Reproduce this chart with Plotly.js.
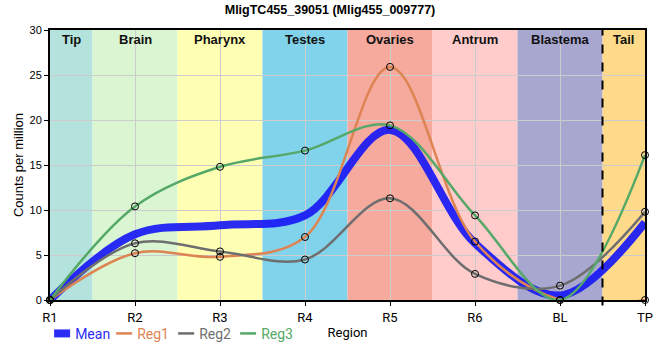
<!DOCTYPE html>
<html>
<head>
<meta charset="utf-8">
<script src="https://cdn.plot.ly/plotly-3.0.1.min.js"></script>
<style>html,body{margin:0;padding:0;background:#fff;}#chart{width:660px;height:360px;}</style>
</head>
<body>
<div id="chart"></div>
<script>
// Data
const categories = ["R1", "R2", "R3", "R4", "R5", "R6", "BL", "TP"];
const meanValues = [0, 7.3, 8.3, 9.4, 18.9, 6.3, 0.5, 8.6];
const reg1Values = [0, 5.2, 4.8, 7.0, 25.9, 6.5, 0, 0];
const reg2Values = [0, 6.3, 5.4, 4.5, 11.3, 2.9, 1.6, 9.8];
const reg3Values = [0, 10.4, 14.8, 16.6, 19.4, 9.4, 0, 16.1];
const regionNames = ["Tip", "Brain", "Pharynx", "Testes", "Ovaries", "Antrum", "Blastema", "Tail"];
const regionColors = ["#b4e3dd", "#d9f5d1", "#ffffb4", "#80d3eb", "#f5aa9d", "#ffcbcb", "#a8a7cf", "#ffda8b"];

const n = categories.length;
const shapes = [];
const annotations = [];
for (let i = 0; i < n; i++) {
  const x0 = Math.max(i - 0.5, 0);
  const x1 = Math.min(i + 0.5, n - 1);
  shapes.push({type: "rect", xref: "x", yref: "paper", x0: x0, x1: x1, y0: 0, y1: 1,
    fillcolor: regionColors[i], line: {width: 0}, layer: "below"});
  annotations.push({xref: "x", yref: "paper", x: (x0 + x1) / 2, y: 0.963, yanchor: "middle", xanchor: "center",
    text: "<b>" + regionNames[i] + "</b>",
    showarrow: false, font: {family: "Liberation Sans, Arial", size: 13, color: "#111"}});
}
shapes.push({type: "line", xref: "x", yref: "paper", x0: n - 1.5, x1: n - 1.5, y0: -0.02, y1: 1,
  line: {color: "#000", width: 2, dash: "dash"}});

const lineColors = {Mean: "rgba(25,25,245,0.92)", Reg1: "#dd8452", Reg2: "#6e6e6e", Reg3: "#55a868"};
function lineTrace(name, vals, width) {
  return {x: categories, y: vals, name: name, type: "scatter", mode: "lines",
    line: {shape: "spline", smoothing: 1, color: lineColors[name], width: width}};
}
function markerTrace(name, vals) {
  return {x: categories, y: vals, name: name, type: "scatter", mode: "markers", showlegend: false,
    marker: {symbol: "circle-open", size: 7, color: "#000", line: {width: 1}}, cliponaxis: false};
}
const traces = [
  lineTrace("Mean", meanValues, 8),
  lineTrace("Reg1", reg1Values, 2.5),
  lineTrace("Reg2", reg2Values, 2.5),
  lineTrace("Reg3", reg3Values, 2.5),
  markerTrace("Reg1", reg1Values),
  markerTrace("Reg2", reg2Values),
  markerTrace("Reg3", reg3Values)
];

const layout = {
  width: 660, height: 360,
  margin: {l: 50, r: 7, t: 30, b: 60},
  paper_bgcolor: "#fff", plot_bgcolor: "#fff",
  title: {text: "<b>MligTC455_39051 (Mlig455_009777)</b>", xref: "container", x: 0.5, y: 0.972, yanchor: "middle",
    font: {family: "Liberation Sans, Arial", size: 12.5, color: "#000"}},
  xaxis: {type: "category", range: [0, n - 1], showgrid: true, gridcolor: "#cccccc", gridwidth: 1,
    showline: true, linecolor: "#000", linewidth: 2, mirror: true, ticks: "outside", ticklen: 4, tickcolor: "#000",
    tickfont: {family: "Roboto", size: 13, color: "#000"}, zeroline: false,
    title: {text: "Region", font: {family: "Roboto", size: 13, color: "#000"}, standoff: 4}, automargin: true},
  yaxis: {range: [0, 30], dtick: 5, showgrid: true, gridcolor: "#cccccc", gridwidth: 1,
    showline: true, linecolor: "#000", linewidth: 2, mirror: true, ticks: "outside", ticklen: 4, tickcolor: "#000",
    tickfont: {family: "Liberation Sans, Arial", size: 11, color: "#000"}, zeroline: false, automargin: true,
    title: {text: "Counts per million", standoff: 3, font: {family: "Liberation Sans, Arial", size: 13, color: "#000"}}},
  legend: {orientation: "h", x: -0.025, xanchor: "left", y: -0.066, yanchor: "top",
    entrywidth: 17, entrywidthmode: "pixels",
    font: {family: "Roboto", size: 14}, bgcolor: "rgba(0,0,0,0)"},
  showlegend: true,
  shapes: shapes,
  annotations: annotations
};

Plotly.newPlot("chart", traces, layout, {displayModeBar: false, staticPlot: true}).then(function(gd){
  // colour the legend text like its line, and use short legend line samples
  const cols = ["#2b2bf5", "#dd8452", "#6e6e6e", "#55a868"];
  gd.querySelectorAll(".legend .traces .legendtext").forEach(function(t, i){ t.style.fill = cols[i]; });
  gd.querySelectorAll(".legend .traces .legendlines path").forEach(function(p){ p.setAttribute("d", "M19,0h16"); });
  gd.querySelectorAll(".legend .scrollbox").forEach(function(s){ s.removeAttribute("clip-path"); });
});
</script>
</body>
</html>
